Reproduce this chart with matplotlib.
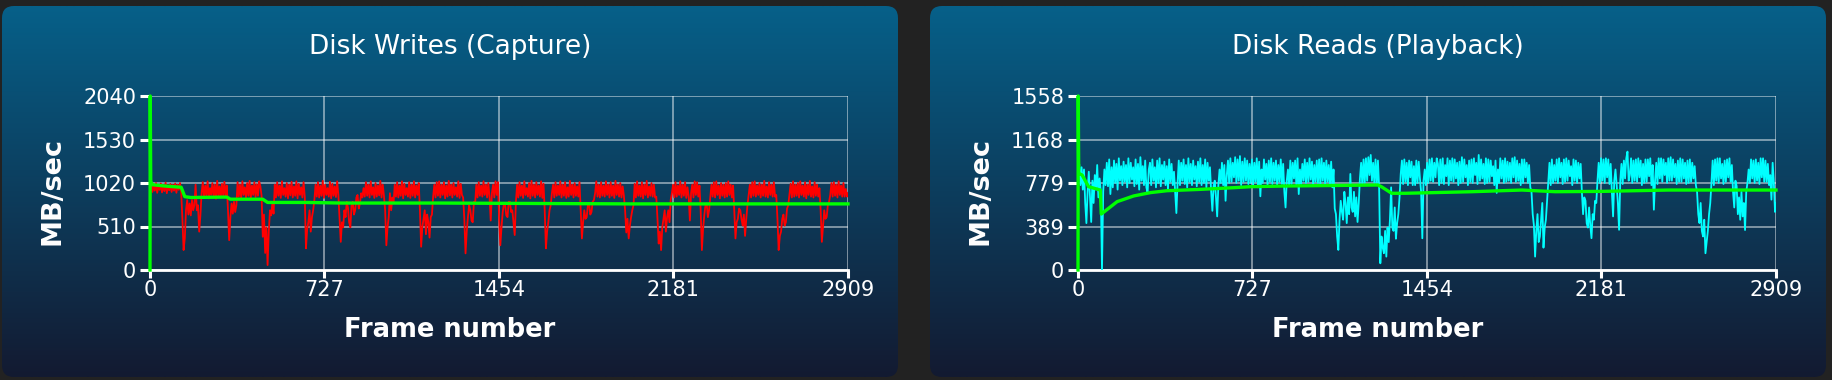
import numpy as np
import matplotlib
matplotlib.use("Agg")
import matplotlib.pyplot as plt
from matplotlib.patches import FancyBboxPatch

# ---------------- data ----------------
frame_step = 5           # one value per 5 frames
last_frame = 2909

writes_mbps = [
    960, 1010, 915, 1000, 930, 1020, 905, 985, 940, 1015, 910, 995, 925, 1025, 900, 990, 935, 1010, 915, 1000,
    930, 1015, 905, 1000, 940, 1020, 910, 600, 234, 370, 700, 820, 650, 780, 640, 820, 700, 760, 1000, 700,
    760, 450, 640, 900, 1030, 850, 990, 870, 1040, 840, 960, 880, 1020, 860, 1000, 835, 1045, 870, 980, 850,
    1010, 870, 1035, 850, 990, 700, 350, 620, 780, 660, 800, 680, 760, 1030, 860, 1000, 845, 1040, 880, 970,
    850, 1020, 870, 1045, 840, 990, 880, 1030, 855, 1005, 870, 1040, 980, 870, 390, 650, 200, 500, 58, 450,
    700, 640, 780, 660, 1000, 850, 1030, 870, 990, 845, 1040, 880, 960, 860, 1020, 840, 1000, 875, 1035, 850,
    980, 870, 1040, 840, 1010, 880, 970, 850, 1030, 860, 254, 480, 560, 700, 450, 620, 700, 820, 1000, 860,
    1030, 850, 990, 870, 1045, 845, 1000, 880, 960, 860, 1035, 840, 1010, 870, 980, 855, 1040, 880, 600, 330,
    560, 500, 700, 620, 800, 730, 560, 500, 760, 800, 650, 700, 850, 880, 720, 780, 900, 850, 960, 860,
    1030, 870, 1000, 850, 1040, 880, 970, 845, 1020, 860, 990, 875, 1045, 850, 1000, 870, 700, 290, 500, 620,
    900, 700, 850, 780, 1000, 860, 1030, 850, 990, 870, 1040, 840, 1010, 880, 960, 860, 1030, 845, 1000, 870,
    1040, 850, 990, 880, 1020, 700, 273, 500, 600, 700, 420, 650, 560, 380, 620, 650, 860, 1000, 850, 1030,
    870, 1040, 850, 1000, 880, 1030, 840, 990, 860, 1045, 875, 1000, 850, 1020, 880, 970, 860, 1040, 845, 1010,
    880, 850, 600, 195, 450, 620, 760, 700, 580, 560, 800, 780, 1000, 850, 1030, 870, 990, 860, 1040, 880,
    1000, 850, 1020, 860, 580, 900, 1000, 850, 1040, 880, 1030, 600, 290, 500, 680, 780, 760, 640, 620, 800,
    800, 680, 700, 560, 410, 800, 1000, 850, 1030, 870, 990, 845, 1040, 880, 960, 860, 1020, 840, 1045, 870,
    1000, 850, 1030, 880, 990, 860, 1040, 845, 1010, 700, 254, 450, 560, 700, 760, 900, 1000, 850, 1030, 870,
    990, 880, 1040, 850, 1000, 870, 1030, 845, 970, 860, 1045, 880, 1000, 850, 1020, 870, 980, 860, 1030, 700,
    370, 560, 700, 600, 620, 760, 780, 650, 680, 800, 820, 900, 1040, 860, 1000, 850, 1030, 870, 990, 860,
    1040, 880, 1000, 850, 1030, 870, 990, 845, 1045, 880, 1000, 860, 1020, 850, 980, 870, 700, 440, 600, 370,
    520, 620, 700, 760, 1010, 850, 1040, 870, 990, 860, 1030, 840, 1000, 880, 1045, 850, 980, 870, 1020, 860,
    1000, 850, 860, 600, 310, 450, 234, 500, 600, 700, 450, 620, 700, 560, 820, 900, 1000, 850, 1030, 860,
    990, 880, 1040, 850, 1000, 870, 1030, 845, 970, 860, 580, 900, 1000, 850, 1040, 880, 1030, 860, 990, 700,
    234, 480, 640, 760, 780, 620, 700, 850, 1000, 860, 1030, 850, 1040, 880, 990, 840, 1020, 870, 1000, 850,
    1020, 860, 1040, 880, 1000, 850, 990, 700, 370, 560, 600, 720, 700, 600, 520, 650, 400, 600, 760, 880,
    1000, 850, 1030, 870, 1040, 860, 990, 880, 1020, 850, 1000, 870, 1045, 860, 980, 850, 1030, 880, 1000, 860,
    1030, 860, 880, 600, 234, 400, 450, 600, 650, 520, 560, 720, 760, 880, 1010, 850, 1040, 860, 1000, 870,
    1020, 850, 1040, 880, 990, 860, 1030, 840, 1000, 880, 1045, 860, 980, 850, 1030, 870, 1000, 860, 960, 700,
    330, 520, 700, 600, 620, 760, 800, 880, 1020, 860, 1030, 870, 1000, 850, 1040, 880, 990, 860, 1020, 860,
    950, 860, 900,
]

reads_mbps = [
    870, 950, 760, 920, 720, 900, 600, 420, 700, 880, 650, 430, 800, 600, 850, 720, 940, 650, 820, 700,
    0, 700, 900, 760, 960, 750, 990, 680, 920, 740, 980, 780, 950, 720, 1000, 800, 930, 760, 970, 790,
    940, 740, 1000, 780, 960, 810, 920, 750, 990, 770, 950, 720, 1010, 800, 930, 760, 980, 740, 690, 900,
    960, 760, 990, 800, 920, 740, 980, 780, 1000, 750, 940, 810, 970, 760, 930, 720, 990, 790, 950, 760,
    880, 700, 510, 780, 980, 760, 960, 800, 990, 770, 940, 740, 1000, 790, 950, 760, 980, 810, 930, 750,
    970, 790, 1000, 760, 940, 780, 990, 740, 960, 800, 920, 700, 530, 750, 800, 650, 480, 760, 900, 780,
    960, 760, 940, 620, 850, 980, 780, 1000, 790, 960, 830, 1010, 780, 990, 800, 1020, 760, 970, 790, 1000,
    800, 980, 770, 950, 780, 990, 760, 960, 790, 1000, 740, 970, 660, 900, 780, 990, 810, 950, 760, 980,
    790, 1000, 770, 960, 800, 980, 760, 940, 790, 990, 770, 950, 700, 560, 800, 900, 750, 980, 770, 960,
    820, 980, 760, 1000, 680, 900, 770, 950, 800, 990, 780, 960, 790, 1000, 810, 970, 760, 940, 790, 980,
    780, 990, 760, 1000, 800, 960, 770, 980, 790, 940, 760, 970, 740, 900, 550, 500, 300, 180, 450, 620,
    520, 450, 700, 600, 420, 650, 500, 860, 560, 520, 700, 480, 650, 430, 600, 820, 960, 760, 990, 780,
    1000, 800, 1010, 850, 1030, 800, 960, 780, 990, 760, 980, 740, 60, 300, 200, 150, 350, 120, 380, 250,
    450, 740, 380, 350, 560, 280, 420, 500, 650, 860, 980, 770, 990, 790, 960, 760, 980, 830, 970, 760,
    930, 760, 980, 780, 970, 820, 700, 284, 800, 900, 760, 960, 780, 990, 800, 1000, 790, 960, 830, 1000,
    950, 760, 990, 780, 1000, 770, 940, 840, 1000, 760, 980, 800, 1000, 790, 990, 820, 960, 760, 970, 780,
    1010, 790, 990, 830, 940, 760, 980, 790, 990, 780, 1000, 850, 960, 770, 1030, 800, 990, 820, 950, 770,
    1000, 780, 990, 790, 980, 840, 930, 760, 980, 690, 900, 780, 1000, 820, 980, 780, 1000, 790, 970, 800,
    960, 780, 1000, 830, 1010, 790, 980, 800, 950, 760, 990, 780, 990, 830, 960, 780, 940, 740, 700, 500,
    400, 120, 350, 500, 250, 300, 450, 600, 200, 380, 450, 620, 800, 960, 760, 990, 780, 940, 800, 990,
    780, 1000, 830, 960, 770, 990, 790, 1000, 800, 980, 840, 930, 760, 990, 800, 980, 780, 960, 820, 950,
    700, 500, 650, 620, 420, 380, 560, 400, 285, 500, 450, 620, 600, 800, 960, 780, 1000, 800, 990, 780,
    1000, 830, 990, 770, 950, 700, 480, 800, 900, 760, 600, 360, 800, 950, 770, 980, 820, 1000, 1060, 800,
    850, 1000, 780, 980, 800, 990, 790, 1000, 830, 980, 760, 950, 780, 990, 790, 990, 840, 1000, 760, 940,
    540, 800, 960, 770, 1000, 820, 1000, 790, 990, 850, 960, 780, 1000, 800, 1010, 800, 990, 830, 950, 770,
    980, 790, 1000, 790, 990, 820, 960, 770, 980, 780, 990, 790, 960, 820, 930, 760, 700, 500, 420, 600,
    350, 300, 450, 150, 250, 350, 500, 600, 780, 980, 760, 990, 800, 1000, 780, 1000, 820, 950, 770, 980,
    790, 990, 830, 1000, 790, 940, 700, 560, 800, 750, 500, 650, 450, 700, 480, 600, 358, 700, 780, 900,
    780, 990, 820, 980, 780, 990, 800, 960, 770, 1000, 830, 1000, 790, 980, 790, 950, 760, 850, 630, 960,
    780, 520, 600,
]

writes_avg_frames = [0, 1, 3, 10, 60, 130, 145, 170, 320, 335, 470, 490, 650, 800, 1200, 1600, 2000, 2909]
writes_avg_mbps = [0, 2040, 1040, 1000, 985, 970, 860, 850, 855, 830, 830, 792, 792, 785, 785, 780, 775, 775]

reads_avg_frames = [0, 1, 3, 17, 44, 93, 97, 163, 232, 302, 371, 510, 649, 719, 858,
                    1250, 1265, 1307, 1363, 1641, 1850, 1989, 2183, 2461, 2909]
reads_avg_mbps = [0, 1558, 866, 851, 746, 716, 501, 612, 663, 693, 710, 722, 737, 746, 752,
                  761, 745, 687, 687, 701, 716, 701, 704, 716, 716]

x_ticks = [0, 727, 1454, 2181, 2909]
writes_y_ticks = [0, 510, 1020, 1530, 2040]
reads_y_ticks = [0, 389, 779, 1168, 1558]

titles = ["Disk Writes (Capture)", "Disk Reads (Playback)"]
x_label = "Frame number"
y_label = "MB/sec"

# ---------------- figure ----------------
W, H = 1832, 380
fig = plt.figure(figsize=(W / 100, H / 100), dpi=100)
fig.patch.set_facecolor("#222222")

bg = fig.add_axes([0, 0, 1, 1])
bg.set_xlim(0, W)
bg.set_ylim(H, 0)
bg.axis("off")

top_c = np.array([6, 96, 137]) / 255
bot_c = np.array([19, 26, 49]) / 255
grad = np.linspace(0, 1, 256)[:, None, None]
grad_img = top_c * (1 - grad) + bot_c * grad
grad_img = np.repeat(grad_img, 2, axis=1)

cards = [(2, 6, 896, 371), (930, 6, 896, 371)]
for (cx, cy, cw, ch) in cards:
    patch = FancyBboxPatch((cx, cy), cw, ch, boxstyle="round,pad=0,rounding_size=12",
                           transform=bg.transData, facecolor="none", edgecolor="none")
    bg.add_patch(patch)
    im = bg.imshow(grad_img, extent=(cx, cx + cw, cy + ch, cy), aspect="auto",
                   interpolation="bilinear", zorder=0)
    im.set_clip_path(patch)


def panel(left_px, card, title, series, avg_f, avg_v, yticks, color):
    ax = fig.add_axes([left_px / W, (H - 270) / H, 698 / W, 174 / H])
    ax.set_facecolor("none")
    frames = np.minimum(np.arange(len(series)) * frame_step, last_frame)
    ax.plot(frames, series, color=color, lw=1.3, zorder=3)
    ax.plot(avg_f, avg_v, color="#00ff00", lw=2.4, zorder=4, clip_on=False,
            solid_joinstyle="round")
    ax.set_xlim(0, last_frame)
    ax.set_ylim(0, yticks[-1])
    ax.set_xticks(x_ticks)
    ax.set_yticks(yticks)
    ax.set_xticklabels([str(t) for t in x_ticks])
    ax.set_yticklabels([str(t) for t in yticks])
    ax.grid(True, color="white", alpha=0.5, lw=1.3)
    ax.set_axisbelow(True)
    for s in ("top", "right"):
        ax.spines[s].set_visible(False)
    ax.spines["left"].set_color("white")
    ax.spines["left"].set_linewidth(1.3)
    ax.spines["bottom"].set_color("white")
    ax.spines["bottom"].set_linewidth(2.0)
    ax.tick_params(axis="both", colors="white", labelsize=15, width=2.2)
    ax.tick_params(axis="y", length=7.5, pad=2.5)
    ax.tick_params(axis="x", length=6, pad=1.5)
    cx, cy, cw, ch = card
    fig.text((cx + cw / 2) / W, 1 - 47 / H, title, color="white", fontsize=19,
             ha="center", va="center")
    fig.text((cx + cw / 2) / W, 1 - 330 / H, x_label, color="white", fontsize=18.5,
             fontweight="bold", ha="center", va="center")
    fig.text((cx + 51) / W, 1 - 191 / H, y_label, color="white", fontsize=19.5,
             fontweight="bold", ha="center", va="center", rotation=90)
    return ax


panel(150, cards[0], titles[0], writes_mbps, writes_avg_frames, writes_avg_mbps,
      writes_y_ticks, "#ff0000")
panel(1078, cards[1], titles[1], reads_mbps, reads_avg_frames, reads_avg_mbps,
      reads_y_ticks, "#00ffff")

fig.savefig("out.png", dpi=100, facecolor=fig.get_facecolor())
